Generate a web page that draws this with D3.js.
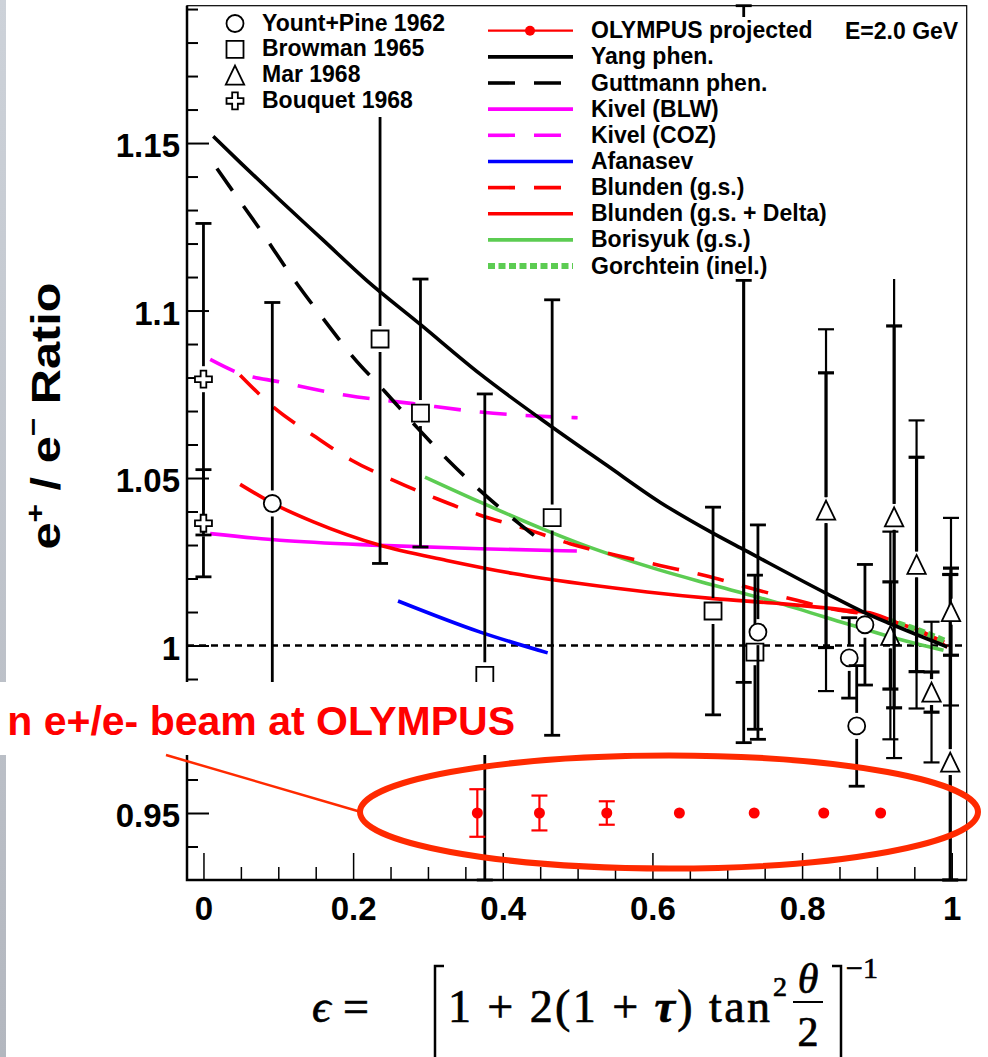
<!DOCTYPE html>
<html>
<head>
<meta charset="utf-8">
<script src="https://cdn.jsdelivr.net/npm/d3@7"></script>
<style>
  body { margin: 0; background: #fff; }
  svg { display: block; }
</style>
</head>
<body>
<svg id="chart" width="988" height="1057"></svg>
<script>
// ---- data ----
const yountEps = [0.092, 0.741, 0.863, 0.873, 0.884];
const yountR   = [1.0424, 1.004, 0.9963, 0.976, 1.0062];
const yountErr = [0.060, 0.032, 0.012, 0.018, 0.018];

const browmanEps = [0.236, 0.290, 0.376, 0.466, 0.681, 0.737];
const browmanR   = [1.0915, 1.0694, 0.9911, 1.0382, 1.0103, 0.998];
const browmanErr = [0.067, 0.040, 0.084, 0.065, 0.031, 0.023];

const marEps  = [0.832, 0.918, 0.923, 0.953, 0.973, 0.998, 0.999];
const marR    = [1.0404, 1.003, 1.0384, 1.0242, 0.9861, 0.9652, 1.0101];
const marStat = [0.041, 0.016, 0.057, 0.032, 0.006, 0.056, 0.013];
const marTot  = [0.054, 0.031, 0.072, 0.043, 0.021, 0.056, 0.028];

const bouquetEps = [0.0, 0.0];
const bouquetR   = [1.0795, 1.0365];
const bouquetErr = [0.0465, 0.016];

// two error bars near eps=0.72 with no visible marker
const bareEps = [0.722, 0.722];
const bareR   = [1.090, 1.040];
const bareErr = [0.101, 0.069];

const olympusEps = [0.366, 0.449, 0.539, 0.636, 0.736, 0.829, 0.905];
const olympusR   = [0.95, 0.95, 0.95, 0.95, 0.95, 0.95, 0.95];
const olympusErr = [0.0071, 0.0052, 0.0035, 0, 0, 0, 0];

const yangEps = [0.013, 0.05, 0.102, 0.16, 0.218, 0.289, 0.37, 0.463, 0.539, 0.61, 0.682, 0.724, 0.833, 0.882, 0.918, 0.994];
const yangR   = [1.152, 1.144, 1.133, 1.121, 1.109, 1.096, 1.081, 1.0657, 1.0538, 1.0428, 1.0334, 1.0284, 1.0155, 1.010, 1.0065, 0.9996];

const guttEps = [0.018, 0.04, 0.07, 0.125, 0.162, 0.2, 0.243, 0.285, 0.327, 0.372, 0.419, 0.45];
const guttR   = [1.1424, 1.1354, 1.126, 1.108, 1.097, 1.0861, 1.0757, 1.0652, 1.0553, 1.0458, 1.0369, 1.0314];

const blwEps = [0.009, 0.102, 0.236, 0.37, 0.499];
const blwR   = [1.0334, 1.0314, 1.0299, 1.0289, 1.0282];

const cozEps = [0.009, 0.049, 0.102, 0.191, 0.28, 0.37, 0.472, 0.5];
const cozR   = [1.0854, 1.0812, 1.0787, 1.0747, 1.0722, 1.0697, 1.0682, 1.068];

const afanEps = [0.26, 0.37, 0.46];
const afanR   = [1.0133, 1.004, 0.9978];

const blundenEps = [0.049, 0.096, 0.147, 0.198, 0.254, 0.312, 0.37, 0.43, 0.49, 0.55, 0.61, 0.67, 0.733, 0.793, 0.849, 0.882, 0.93, 0.99];
const blundenR   = [1.0807, 1.0707, 1.0627, 1.0553, 1.0493, 1.0438, 1.0389, 1.0349, 1.0304, 1.027, 1.0239, 1.0209, 1.017, 1.0135, 1.0105, 1.0095, 1.0065, 1.001];

const deltaEps = [0.049, 0.093, 0.147, 0.236, 0.325, 0.414, 0.503, 0.593, 0.682, 0.771, 0.86, 0.895, 0.93, 0.962, 0.994];
const deltaR   = [1.0481, 1.0424, 1.0369, 1.0299, 1.0254, 1.0215, 1.0185, 1.016, 1.014, 1.0125, 1.0105, 1.0095, 1.0065, 1.004, 0.9995];

const borisEps = [0.296, 0.37, 0.463, 0.503, 0.61, 0.682, 0.771, 0.86, 0.927, 0.989];
const borisR   = [1.0503, 1.0428, 1.0339, 1.0304, 1.0225, 1.018, 1.0125, 1.0065, 1.002, 0.9986];

const gorchEps = [0.915, 0.95, 0.99];
const gorchR   = [1.0075, 1.005, 1.0015];

const yTicks = [0.95, 1.0, 1.05, 1.1, 1.15];
const yTickLabels = ['0.95', '1', '1.05', '1.1', '1.15'];
const xTicks = [0, 0.2, 0.4, 0.6, 0.8, 1.0];
const xTickLabels = ['0', '0.2', '0.4', '0.6', '0.8', '1'];

const markerNames = ['Yount+Pine 1962', 'Browman 1965', 'Mar 1968', 'Bouquet 1968'];
const curveNames = ['OLYMPUS projected', 'Yang phen.', 'Guttmann phen.', 'Kivel (BLW)', 'Kivel (COZ)',
  'Afanasev', 'Blunden (g.s.)', 'Blunden (g.s. + Delta)', 'Borisyuk (g.s.)', 'Gorchtein (inel.)'];

// ---- setup ----
const svg = d3.select('#chart');
const plot = { left: 187, right: 966.7, top: 5.7, bottom: 880 };
const sans = '"Liberation Sans", Arial, Helvetica, sans-serif';

const x = d3.scaleLinear().domain([-0.022, 1.02]).range([plot.left, plot.right]);
const y = d3.scaleLinear().domain([0.93, 1.191]).range([plot.bottom, plot.top]);

const RED = '#ff0000', MAG = '#ff00ff', BLUE = '#0000ff', GREEN = '#5ccc52';
const CW = 3.6; // curve width

// left grey strip of the slide
const grad = svg.append('defs').append('linearGradient')
    .attr('id', 'strip').attr('x1', 0).attr('y1', 0).attr('x2', 0).attr('y2', 1);
grad.append('stop').attr('offset', 0).attr('stop-color', '#cdd2d9');
grad.append('stop').attr('offset', 1).attr('stop-color', '#b3b7bf');
svg.append('rect').attr('x', 0).attr('y', 0).attr('width', 6).attr('height', 1057).attr('fill', 'url(#strip)');

// ---- axes ----
const gy = svg.append('g')
    .attr('transform', `translate(${plot.left},0)`)
    .call(d3.axisLeft(y).tickValues(yTicks).tickFormat((d, i) => yTickLabels[i])
        .tickSizeInner(-22).tickSizeOuter(0).tickPadding(7));
gy.select('.domain').remove();
gy.attr('font-size', 33).attr('font-family', sans).attr('font-weight', 'bold');
gy.selectAll('line').attr('stroke-width', 2);
gy.selectAll('text').attr('dy', '0.42em').attr('fill', '#000');

const yMinor = d3.range(94, 120).map(v => v / 100).filter(v => Math.round(v * 100) % 5 !== 0);
const gyMinor = svg.append('g')
    .attr('transform', `translate(${plot.left},0)`)
    .call(d3.axisLeft(y).tickValues(yMinor).tickFormat('').tickSize(-11));
gyMinor.select('.domain').remove();
gyMinor.selectAll('line').attr('stroke-width', 2);

const gx = svg.append('g')
    .attr('transform', `translate(0,${plot.bottom})`)
    .call(d3.axisBottom(x).tickValues(xTicks).tickFormat((d, i) => xTickLabels[i])
        .tickSizeInner(-27).tickSizeOuter(0).tickPadding(17));
gx.select('.domain').remove();
gx.attr('font-size', 33).attr('font-family', sans).attr('font-weight', 'bold');
gx.selectAll('line').attr('stroke-width', 1.5);
gx.selectAll('text').attr('fill', '#000');

const xMinor = d3.range(1, 20).map(v => v / 20).filter(v => Math.round(v * 20) % 4 !== 0);
const gxMinor = svg.append('g')
    .attr('transform', `translate(0,${plot.bottom})`)
    .call(d3.axisBottom(x).tickValues(xMinor).tickFormat('').tickSize(-13));
gxMinor.select('.domain').remove();
gxMinor.selectAll('line').attr('stroke-width', 1.5);

// frame
svg.append('rect')
    .attr('x', plot.left).attr('y', plot.top)
    .attr('width', plot.right - plot.left).attr('height', plot.bottom - plot.top)
    .attr('fill', 'none').attr('stroke', '#000').attr('stroke-width', 1.2);
svg.append('path')
    .attr('d', `M${plot.left},${plot.top}V${plot.bottom}H${plot.right}`)
    .attr('fill', 'none').attr('stroke', '#000').attr('stroke-width', 2.5);

// R = 1 reference
svg.append('line')
    .attr('x1', plot.left).attr('x2', plot.right).attr('y1', y(1)).attr('y2', y(1))
    .attr('stroke', '#000').attr('stroke-width', 2.5).attr('stroke-dasharray', '7,5');

// ---- theory curves ----
const zip = (a, b) => a.map((v, i) => [v, b[i]]);
const line = d3.line().x(d => x(d[0])).y(d => y(d[1])).curve(d3.curveMonotoneX);

const curves = [
  { pts: zip(blwEps, blwR), color: MAG, w: CW, dash: null },
  { pts: zip(cozEps, cozR), color: MAG, w: CW, dash: '27,19' },
  { pts: zip(afanEps, afanR), color: BLUE, w: CW, dash: null },
  { pts: zip(borisEps, borisR), color: GREEN, w: CW, dash: null },
  { pts: zip(blundenEps, blundenR), color: RED, w: CW, dash: '27,19' },
  { pts: zip(deltaEps, deltaR), color: RED, w: CW, dash: null },
  { pts: zip(gorchEps, gorchR), color: GREEN, w: 6, dash: '7,3.5' },
  { pts: zip(guttEps, guttR), color: '#000', w: CW, dash: '27,19' },
  { pts: zip(yangEps, yangR), color: '#000', w: CW, dash: null },
];
svg.append('g').selectAll('path').data(curves).join('path')
    .attr('d', d => line(d.pts))
    .attr('fill', 'none')
    .attr('stroke', d => d.color)
    .attr('stroke-width', d => d.w)
    .attr('stroke-dasharray', d => d.dash);

// ---- data points ----
const clampR = v => Math.max(0.93, Math.min(1.191, v));

function errorBar(g, eps, r, err, gap, width, color) {
  const cx = x(eps), cy = y(r);
  const yh = y(clampR(r + err)), yl = y(clampR(r - err));
  const seg = (y1, y2) => g.append('line')
      .attr('x1', cx).attr('x2', cx).attr('y1', y1).attr('y2', y2)
      .attr('stroke', color).attr('stroke-width', width);
  if (yh < cy - gap) seg(yh, cy - gap);
  if (yl > cy + gap) seg(cy + gap, yl);
  if (err > 0) {
    [yh, yl].forEach(yy => g.append('line')
        .attr('x1', cx - 8).attr('x2', cx + 8).attr('y1', yy).attr('y2', yy)
        .attr('stroke', color).attr('stroke-width', width));
  }
}

const shapes = {
  circle: d3.symbol().type(d3.symbolCircle).size(227)(),
  square: d3.symbol().type(d3.symbolSquare).size(289)(),
  cross: d3.symbol().type(d3.symbolCross).size(160)(),
  triangle: 'M0,-9.5L9.2,9.5L-9.2,9.5Z'
};

function marker(g, cx, cy, shape) {
  g.append('path')
      .attr('d', shapes[shape])
      .attr('transform', `translate(${cx},${cy})`)
      .attr('fill', '#fff').attr('stroke', '#000').attr('stroke-width', 1.8);
}

const pts = svg.append('g');

bareEps.forEach((e, i) => errorBar(pts, e, bareR[i], bareErr[i], 0, 2.8, '#000'));

bouquetEps.forEach((e, i) => {
  errorBar(pts, e, bouquetR[i], bouquetErr[i], 13, 2.8, '#000');
  marker(pts, x(e), y(bouquetR[i]), 'cross');
});
browmanEps.forEach((e, i) => {
  errorBar(pts, e, browmanR[i], browmanErr[i], 13, 2.8, '#000');
  marker(pts, x(e), y(browmanR[i]), 'square');
});
yountEps.forEach((e, i) => {
  errorBar(pts, e, yountR[i], yountErr[i], 13, 2.8, '#000');
  marker(pts, x(e), y(yountR[i]), 'circle');
});
marEps.forEach((e, i) => {
  errorBar(pts, e, marR[i], marTot[i], 13, 2.2, '#000');
  errorBar(pts, e, marR[i], marStat[i], 13, 3.2, '#000');
  marker(pts, x(e), y(marR[i]), 'triangle');
});
olympusEps.forEach((e, i) => {
  errorBar(pts, e, olympusR[i], olympusErr[i], 0, 2.2, RED);
  pts.append('circle').attr('cx', x(e)).attr('cy', y(olympusR[i])).attr('r', 5.5).attr('fill', RED);
});

// ---- legends (white boxes hide what lies behind) ----
svg.append('rect').attr('x', 198).attr('y', 8).attr('width', 258).attr('height', 109).attr('fill', '#fff');
svg.append('rect').attr('x', 480).attr('y', 17).attr('width', 482).attr('height', 262).attr('fill', '#fff');

const legL = svg.append('g').attr('font-family', sans).attr('font-weight', 'bold').attr('font-size', 23);
const legShapes = ['circle', 'square', 'triangle', 'cross'];
markerNames.forEach((name, i) => {
  const ry = 23.5 + i * 25.8;
  marker(legL, 235, ry, legShapes[i]);
  legL.append('text').attr('x', 262).attr('y', ry + 7).text(name);
});

const legStyles = [
  { color: RED, w: 2.2, dash: null },
  { color: '#000', w: CW, dash: null },
  { color: '#000', w: CW, dash: '27,19' },
  { color: MAG, w: CW, dash: null },
  { color: MAG, w: CW, dash: '27,19' },
  { color: BLUE, w: CW, dash: null },
  { color: RED, w: CW, dash: '27,19' },
  { color: RED, w: CW, dash: null },
  { color: GREEN, w: CW, dash: null },
  { color: GREEN, w: 6, dash: '7,3.5' },
];
const legR = svg.append('g').attr('font-family', sans).attr('font-weight', 'bold').attr('font-size', 23);
curveNames.forEach((name, i) => {
  const ry = 30.7 + i * 26.15;
  const s = legStyles[i];
  legR.append('line').attr('x1', 488).attr('x2', 573).attr('y1', ry).attr('y2', ry)
      .attr('stroke', s.color).attr('stroke-width', s.w).attr('stroke-dasharray', s.dash);
  if (i === 0) legR.append('circle').attr('cx', 530).attr('cy', ry).attr('r', 5).attr('fill', RED);
  legR.append('text').attr('x', 591).attr('y', ry + 7.5).text(name);
});
legR.append('text').attr('x', 845).attr('y', 39).text('E=2.0 GeV');

// ---- y axis title ----
const yt = svg.append('text')
    .attr('transform', 'translate(60,416) rotate(-90)')
    .attr('text-anchor', 'middle')
    .attr('font-family', sans).attr('font-weight', 'bold').attr('font-size', 40)
    .attr('textLength', 267).attr('lengthAdjust', 'spacingAndGlyphs');
yt.append('tspan').text('e');
yt.append('tspan').attr('font-size', 26).attr('dy', -16).text('+');
yt.append('tspan').attr('dy', 16).text(' / e');
yt.append('tspan').attr('font-size', 26).attr('dy', -18).text('\u2212');
yt.append('tspan').attr('dy', 18).text(' Ratio');

// ---- x axis title (formula) ----
const fg = svg.append('g')
    .attr('font-family', '"Liberation Serif", "DejaVu Serif", serif')
    .attr('fill', '#000').attr('stroke', '#000').attr('stroke-width', 0.7);
fg.append('text').attr('x', 312).attr('y', 1022).attr('font-size', 46).attr('font-style', 'italic').text('\u03f5');
fg.append('text').attr('x', 343).attr('y', 1022).attr('font-size', 46).text('=');
fg.append('path').attr('d', 'M444,966H435V1060').attr('fill', 'none').attr('stroke-width', 2.5);
const mainF = fg.append('text').attr('x', 448).attr('y', 1022).attr('font-size', 46)
    .attr('textLength', 322).attr('lengthAdjust', 'spacing');
mainF.append('tspan').text('1 + 2(1 + ');
mainF.append('tspan').attr('font-style', 'italic').attr('font-weight', 'bold').text('\u03c4');
mainF.append('tspan').text(') tan');
fg.append('text').attr('x', 773).attr('y', 996).attr('font-size', 28).text('2');
fg.append('text').attr('x', 808).attr('y', 993).attr('font-size', 42).attr('font-style', 'italic').attr('text-anchor', 'middle').text('\u03b8');
fg.append('line').attr('x1', 793).attr('x2', 823).attr('y1', 1002).attr('y2', 1002).attr('stroke-width', 2);
fg.append('text').attr('x', 808).attr('y', 1046).attr('font-size', 42).attr('text-anchor', 'middle').text('2');
fg.append('path').attr('d', 'M832,966H841V1060').attr('fill', 'none').attr('stroke-width', 2.5);
fg.append('text').attr('x', 846).attr('y', 978).attr('font-size', 30).text('\u22121');

// ---- slide annotation ----
svg.append('rect').attr('x', 0).attr('y', 682).attr('width', 530).attr('height', 73).attr('fill', '#fff');
svg.append('text')
    .attr('x', 515).attr('y', 735).attr('text-anchor', 'end')
    .attr('font-family', sans).attr('font-weight', 'bold').attr('font-size', 41)
    .attr('fill', RED).text('n e+/e- beam at OLYMPUS');
svg.append('line').attr('x1', 166).attr('y1', 755).attr('x2', 361).attr('y2', 812)
    .attr('stroke', '#ff2a00').attr('stroke-width', 2.5);
svg.append('ellipse').attr('cx', 669).attr('cy', 812).attr('rx', 309).attr('ry', 56.5)
    .attr('fill', 'none').attr('stroke', '#ff2a00').attr('stroke-width', 6);
</script>
</body>
</html>
